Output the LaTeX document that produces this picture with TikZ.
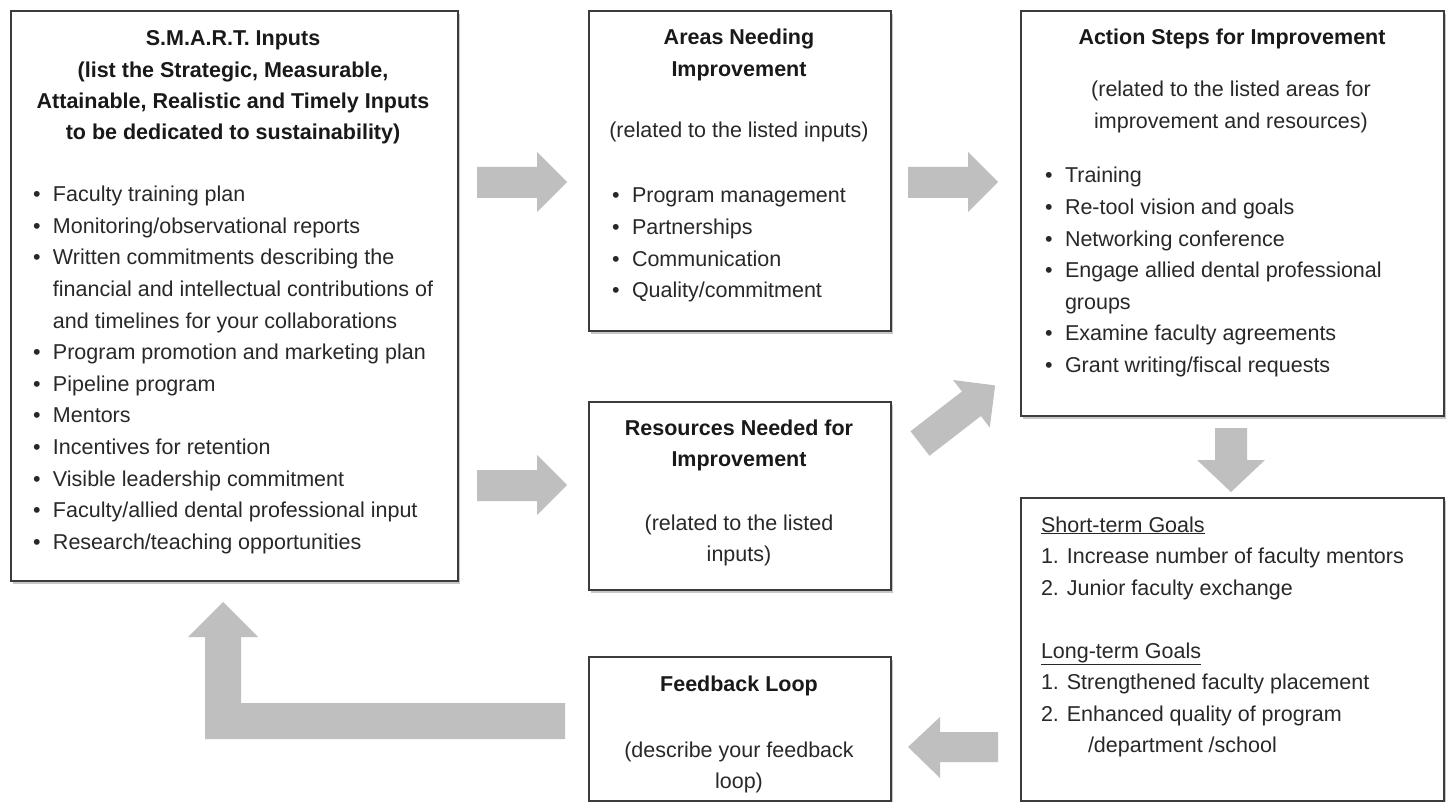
\documentclass[tikz,border=0pt]{standalone}
\usepackage{fontspec}
\setmainfont{Liberation Sans}
\usetikzlibrary{shadows}
\definecolor{arrowgray}{RGB}{191,191,191}
\definecolor{txtcol}{RGB}{40,40,40}
\definecolor{boxline}{RGB}{60,60,60}
\newcommand{\bl}{\makebox[20pt][l]{\textbullet}}
\newcommand{\ind}{\hspace*{20pt}}
\begin{document}
\begin{tikzpicture}[x=1pt,y=-1pt,
  box/.style={draw=boxline, line width=2.2pt, fill=white, anchor=north west, inner sep=0pt,
    drop shadow={shadow xshift=2pt, shadow yshift=-3pt, fill=black, opacity=0.22}},
  barrow/.style={fill=arrowgray, draw=none},
  body/.style={inner sep=0pt, outer sep=0pt, text=txtcol, font=\fontsize{21.5}{31.6}\selectfont},
  head/.style={inner sep=0pt, outer sep=0pt, text=black!90, font=\bfseries\fontsize{21.5}{31.2}\selectfont},
]
\useasboundingbox[fill=white] (0,0) rectangle (1449,802);

% boxes
\node[box, minimum width=447pt, minimum height=570pt] (smart) at (10,10) {};
\node[box, minimum width=302pt, minimum height=320pt] (areas) at (588,10) {};
\node[box, minimum width=302pt, minimum height=188pt] (res) at (588,401) {};
\node[box, minimum width=423pt, minimum height=405pt] (action) at (1020,10) {};
\node[box, minimum width=423pt, minimum height=303pt] (goals) at (1020,497) {};
\node[box, minimum width=302pt, minimum height=144pt] (fb) at (588,656) {};

% SMART inputs
\node[head, anchor=base] (smartT) at (233,46) {\begin{tabular}[t]{@{}c@{}}S.M.A.R.T. Inputs\\(list the Strategic, Measurable,\\Attainable, Realistic and Timely Inputs\\to be dedicated to sustainability)\end{tabular}};
\node[body, anchor=base west] (smartL) at (33,201.7) {\begin{tabular}[t]{@{}l@{}}
\bl Faculty training plan\\
\bl Monitoring/observational reports\\
\bl Written commitments describing the\\
\ind financial and intellectual contributions of\\
\ind and timelines for your collaborations\\
\bl Program promotion and marketing plan\\
\bl Pipeline program\\
\bl Mentors\\
\bl Incentives for retention\\
\bl Visible leadership commitment\\
\bl Faculty/allied dental professional input\\
\bl Research/teaching opportunities
\end{tabular}};

% Areas needing improvement
\node[head, anchor=base] (areasT) at (739,45) {\begin{tabular}[t]{@{}c@{}}Areas Needing\\Improvement\end{tabular}};
\node[body, anchor=base] (areasS) at (739,138) {(related to the listed inputs)};
\node[body, anchor=base west] (areasL) at (612,203) {\begin{tabular}[t]{@{}l@{}}
\bl Program management\\
\bl Partnerships\\
\bl Communication\\
\bl Quality/commitment
\end{tabular}};

% Resources needed
\node[head, anchor=base] (resT) at (739,435) {\begin{tabular}[t]{@{}c@{}}Resources Needed for\\Improvement\end{tabular}};
\node[body, anchor=base] (resS) at (739,530) {\begin{tabular}[t]{@{}c@{}}(related to the listed\\inputs)\end{tabular}};

% Action steps
\node[head, anchor=base] (actionT) at (1232,45) {Action Steps for Improvement};
\node[body, anchor=base] (actionS) at (1231,97) {\begin{tabular}[t]{@{}c@{}}(related to the listed areas for\\improvement and resources)\end{tabular}};
\node[body, anchor=base west] (actionL) at (1045,183) {\begin{tabular}[t]{@{}l@{}}
\bl Training\\
\bl Re-tool vision and goals\\
\bl Networking conference\\
\bl Engage allied dental professional\\
\ind groups\\
\bl Examine faculty agreements\\
\bl Grant writing/fiscal requests
\end{tabular}};

% Goals
\node[body, anchor=base west] (shortG) at (1041,532) {\begin{tabular}[t]{@{}l@{}}
\underline{Short-term Goals}\\
1. Increase number of faculty mentors\\
2. Junior faculty exchange
\end{tabular}};
\node[body, anchor=base west] (longG) at (1041,658) {\begin{tabular}[t]{@{}l@{}}
\underline{Long-term Goals}\\
1. Strengthened faculty placement\\
2. Enhanced quality of program\\
\hspace*{47pt}/department /school
\end{tabular}};

% Feedback loop
\node[head, anchor=base] (fbT) at (739,691) {Feedback Loop};
\node[body, anchor=base] (fbS) at (739,757) {\begin{tabular}[t]{@{}c@{}}(describe your feedback\\loop)\end{tabular}};

% block arrows
\fill[barrow] (477,167) -- (537,167) -- (537,152) -- (567,182) -- (537,212) -- (537,198) -- (477,198) -- cycle;
\fill[barrow] (477,470) -- (537,470) -- (537,455) -- (567,485) -- (537,515) -- (537,501) -- (477,501) -- cycle;
\fill[barrow] (908,167) -- (968,167) -- (968,152) -- (998,182) -- (968,212) -- (968,198) -- (908,198) -- cycle;
\begin{scope}[shift={(920,443.5)}, rotate=37.7]
\fill[barrow] (0,-15.5) -- (65,-15.5) -- (65,-30) -- (95,0) -- (65,30) -- (65,15.5) -- (0,15.5) -- cycle;
\end{scope}
\fill[barrow] (1215,428) -- (1247,428) -- (1247,460) -- (1265,460) -- (1231,492) -- (1197,460) -- (1215,460) -- cycle;
\fill[barrow] (998,732) -- (940,732) -- (940,717) -- (908,747) -- (940,778) -- (940,762) -- (998,762) -- cycle;
\fill[barrow] (565,703) -- (241,703) -- (241,637) -- (258,637) -- (223,602) -- (188,637) -- (205,637) -- (205,739) -- (565,739) -- cycle;
\end{tikzpicture}
\end{document}
